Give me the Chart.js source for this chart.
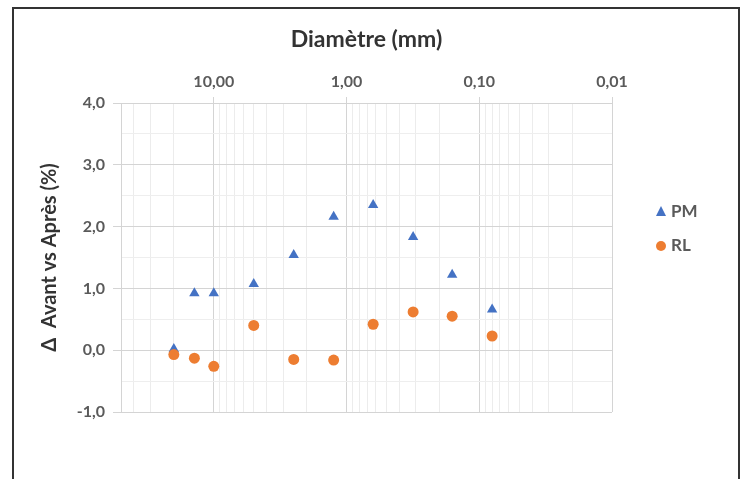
<!DOCTYPE html>
<html>
<head>
<meta charset="utf-8">
<script src="https://cdn.jsdelivr.net/npm/chart.js@4.4.1/dist/chart.umd.min.js"></script>
<style>
    body { margin: 0; background: #fff; }
    #wrap { position: relative; width: 747px; height: 479px; overflow: hidden; }
    #frame {
        position: absolute; left: 12px; top: 7px; width: 724px; height: 520px;
        border: 2px solid #333; border-bottom: none; pointer-events: none;
    }
</style>
</head>
<body>
<div id="wrap">
    <canvas id="chart" width="747" height="479"></canvas>
    <div id="frame"></div>
</div>
<script>
// diamètres des tamis (mm) et écarts avant/après (%)
const diametres = [20, 14, 10, 5, 2.5, 1.25, 0.63, 0.315, 0.16, 0.08];
const pmValues = [0.02, 0.92, 0.92, 1.07, 1.54, 2.16, 2.35, 1.83, 1.22, 0.66];
const rlValues = [-0.07, -0.13, -0.26, 0.40, -0.15, -0.16, 0.42, 0.62, 0.55, 0.23];

const xMajorTicks = [0.01, 0.1, 1, 10];
const seriesNames = ['PM', 'RL'];

const blue = '#4472C4';
const orange = '#ED7D31';
const FONT = 'Lato, "Open Sans", sans-serif';
const tickGrey = '#5a5a5a';

function isMajorX(v) {
    return xMajorTicks.some(m => Math.abs(v - m) < m * 1e-6);
}

// légende dessinée à droite
const sideLegend = {
    id: 'sideLegend',
    afterDraw(chart) {
        const ctx = chart.ctx;
        ctx.save();
        ctx.font = 'bold 17px ' + FONT;
        ctx.textBaseline = 'middle';
        ctx.textAlign = 'left';
        // PM
        ctx.fillStyle = blue;
        ctx.beginPath();
        ctx.moveTo(661, 206);
        ctx.lineTo(666, 216);
        ctx.lineTo(656, 216);
        ctx.closePath();
        ctx.fill();
        ctx.fillStyle = tickGrey;
        ctx.fillText(seriesNames[0], 671, 212);
        // RL
        ctx.fillStyle = orange;
        ctx.beginPath();
        ctx.arc(661, 246, 5, 0, Math.PI * 2);
        ctx.fill();
        ctx.fillStyle = tickGrey;
        ctx.fillText(seriesNames[1], 671, 246);
        ctx.restore();
    }
};

const ctx = document.getElementById('chart').getContext('2d');
const chart = new Chart(ctx, {
    type: 'scatter',
    data: {
        datasets: [
            {
                label: seriesNames[0],
                data: diametres.map((d, i) => ({ x: d, y: pmValues[i] })),
                pointStyle: 'triangle',
                pointRadius: 6,
                pointHoverRadius: 6,
                backgroundColor: blue,
                borderColor: blue,
                borderWidth: 0,
                order: 1
            },
            {
                label: seriesNames[1],
                data: diametres.map((d, i) => ({ x: d, y: rlValues[i] })),
                pointStyle: 'circle',
                pointRadius: 5.5,
                pointHoverRadius: 5.5,
                backgroundColor: orange,
                borderColor: orange,
                borderWidth: 0,
                order: 0
            }
        ]
    },
    options: {
        responsive: false,
        animation: false,
        layout: { padding: { left: 0, top: 0, right: 135, bottom: 67 } },
        plugins: {
            legend: { display: false },
            tooltip: { enabled: false }
        },
        scales: {
            x: {
                type: 'logarithmic',
                position: 'top',
                reverse: true,
                min: 0.01,
                max: 50,
                afterBuildTicks(scale) {
                    const vals = [];
                    xMajorTicks.forEach(m => {
                        for (let k = 1; k <= 9; k++) {
                            const v = m * k;
                            if (v <= 50) vals.push(v);
                        }
                    });
                    scale.ticks = vals.map(v => ({ value: v }));
                },
                afterFit(scale) { scale.height = 103; },
                ticks: {
                    autoSkip: false,
                    maxRotation: 0,
                    padding: 6,
                    color: tickGrey,
                    font: { family: FONT, size: 16, weight: 'bold' },
                    callback: v => isMajorX(v) ? v.toFixed(2).replace('.', ',') : ''
                },
                grid: {
                    tickLength: 6,
                    color: c => isMajorX(c.tick.value) || c.tick.value === 50 ? '#d4d4d4' : '#ececec',
                    tickColor: c => isMajorX(c.tick.value) ? '#d4d4d4' : 'rgba(0,0,0,0)'
                },
                border: { color: '#d4d4d4' },
                title: {
                    display: true,
                    text: 'Diamètre (mm)',
                    color: '#333333',
                    font: { family: FONT, size: 23, weight: 'bold' },
                    padding: { top: 26, bottom: 0 }
                }
            },
            y: {
                min: -1,
                max: 4,
                afterFit(scale) { scale.width = 121; },
                ticks: {
                    stepSize: 0.5,
                    padding: 8,
                    color: tickGrey,
                    font: { family: FONT, size: 16, weight: 'bold' },
                    callback: v => Number.isInteger(v) ? v.toFixed(1).replace('.', ',') : ''
                },
                grid: {
                    tickLength: 8,
                    color: c => Number.isInteger(c.tick.value) ? '#d4d4d4' : '#eeeeee',
                    tickColor: c => Number.isInteger(c.tick.value) ? '#d4d4d4' : 'rgba(0,0,0,0)'
                },
                border: { color: '#d4d4d4' },
                title: {
                    display: true,
                    text: 'Δ  Avant vs Après (%)',
                    color: '#333333',
                    font: { family: FONT, size: 20, weight: 'bold' },
                    padding: { top: 38, bottom: 0 }
                }
            }
        }
    },
    plugins: [sideLegend]
});
</script>
</body>
</html>
